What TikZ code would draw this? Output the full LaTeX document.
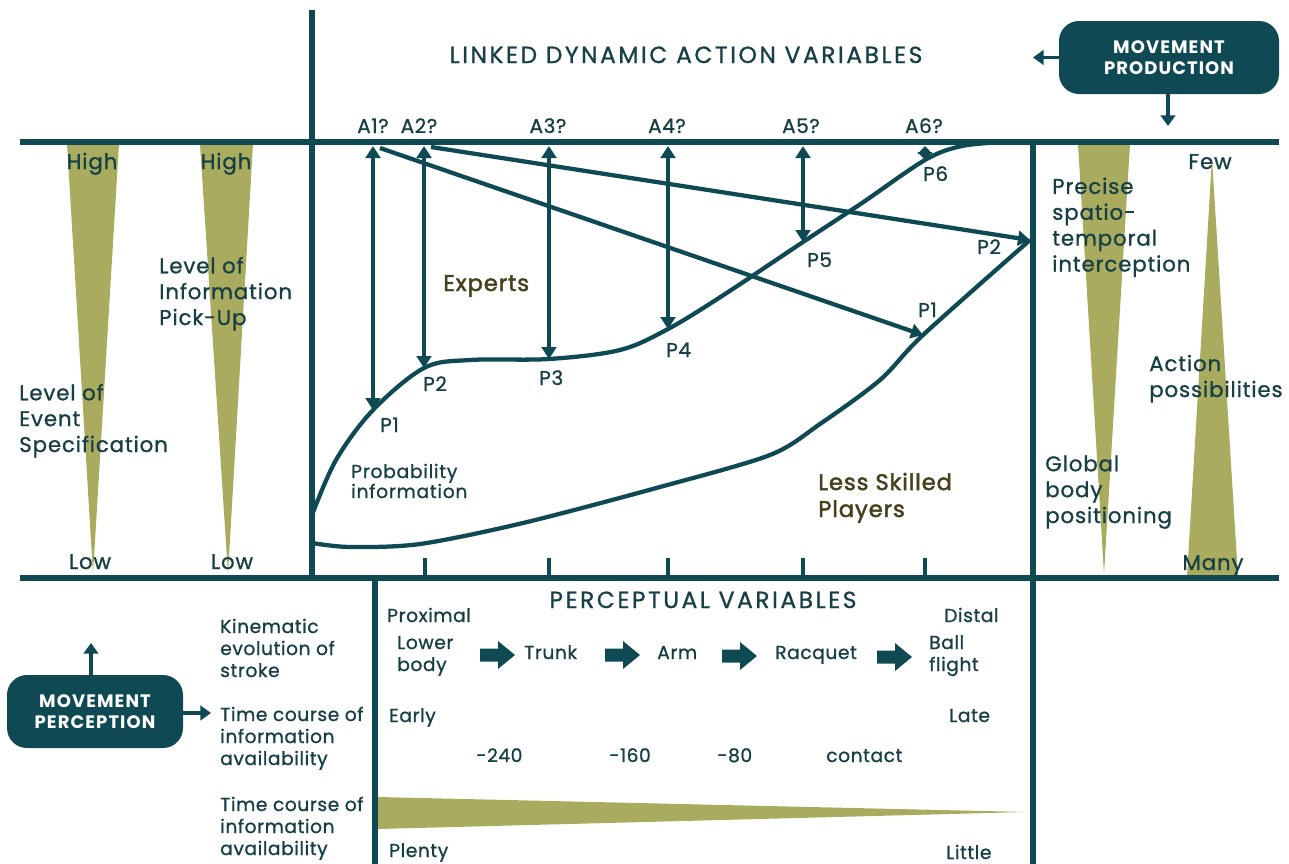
\documentclass[tikz,border=0pt]{standalone}
\usepackage{fontspec}
\setmainfont{Poppins}
\usetikzlibrary{arrows.meta}

\definecolor{deepteal}{HTML}{0F4A54}
\definecolor{labelink}{HTML}{173F46}
\definecolor{conefill}{HTML}{A9AC5E}
\definecolor{groupink}{HTML}{46411C}

\tikzset{
  headtip/.tip={Triangle[length=9pt,width=11pt]},
  axisline/.style={line width=4pt, draw=deepteal},
  trendline/.style={line width=3.2pt, draw=deepteal, line join=round},
  linkarrow/.style={line width=3.2pt, draw=deepteal, -headtip},
  bothway/.style={line width=3.2pt, draw=deepteal, headtip-headtip},
  boxarrow/.style={line width=2.6pt, draw=deepteal, -{Triangle[length=8pt,width=11pt]}},
  wedge/.style={fill=conefill},
  caption/.style={text=labelink, inner sep=0pt, align=left, anchor=base west,
    font=\fontsize{16}{19.4}\selectfont\addfontfeatures{LetterSpace=4,FakeBold=1}},
  rowlabel/.style={text=labelink, inner sep=0pt, align=left, anchor=base west,
    font=\fontsize{14}{16.5}\selectfont\addfontfeatures{LetterSpace=3,FakeBold=1}},
  cell/.style={text=labelink, inner sep=0pt, anchor=base west, align=left,
    font=\fontsize{14}{16.5}\selectfont\addfontfeatures{LetterSpace=3,FakeBold=1}},
  pointlbl/.style={text=labelink, inner sep=0pt, anchor=base west,
    font=\fontsize{15}{17}\selectfont\addfontfeatures{LetterSpace=3,FakeBold=1}},
  actlbl/.style={text=labelink, inner sep=0pt, anchor=base,
    font=\fontsize{15}{17}\selectfont\addfontfeatures{LetterSpace=3,FakeBold=1}},
  heading/.style={text=labelink, inner sep=0pt, anchor=base,
    font=\fontsize{17.5}{20}\selectfont\addfontfeatures{LetterSpace=11,FakeBold=1}},
  endlbl/.style={text=labelink, inner sep=0pt, anchor=base,
    font=\fontsize{16}{18}\selectfont\addfontfeatures{LetterSpace=4,FakeBold=1}},
  group/.style={text=groupink, inner sep=0pt, align=left, anchor=base west,
    font=\fontsize{17}{20.2}\selectfont\addfontfeatures{LetterSpace=4,FakeBold=2}},
  smallnote/.style={text=labelink, inner sep=0pt, align=left, anchor=base west,
    font=\fontsize{14}{15}\selectfont\addfontfeatures{LetterSpace=4,FakeBold=1}},
  movebox/.style={fill=deepteal, rounded corners=15pt, text=white, align=center,
    font=\bfseries\fontsize{13.5}{15.5}\selectfont\addfontfeatures{LetterSpace=6},
    inner sep=0pt},
  fatarrow/.pic={\fill[deepteal] (0,-6.5) -- (18,-6.5) -- (18,-14) -- (35,0)
      -- (18,14) -- (18,6.5) -- (0,6.5) -- cycle;}
}

\begin{document}
\begin{tikzpicture}[x=0.75pt,y=-0.75pt]
\useasboundingbox (0,0) rectangle (1289,864);

% tapering scales behind the text
\fill[wedge] (67,144) -- (119,144) -- (93,574) -- cycle;
\fill[wedge] (200,144) -- (253,144) -- (228,574) -- cycle;
\fill[wedge] (1078,144) -- (1130,144) -- (1104,574) -- cycle;
\fill[wedge] (1212,158) -- (1238,576) -- (1187,576) -- cycle;
\fill[wedge] (378,797) -- (1026,812) -- (378,829) -- cycle;

% frame
\draw[axisline] (20,142) -- (1279,142);
\draw[axisline] (20,578) -- (1279,578);
\draw[axisline] (312,10) -- (312,578);
\draw[axisline] (1033,142) -- (1033,864);
\draw[axisline] (375,578) -- (375,864);
\foreach \tx in {425,549,668,803,925}
  \draw[line width=2.6pt, deepteal] (\tx,558) -- (\tx,578);

% movement boxes
\node[movebox, minimum width=165pt, minimum height=54.75pt] (prod) at (1169,57.5)
  {MOVEMENT\\PRODUCTION};
\coordinate (prodleft) at (1033,57.5);
\coordinate (proddown) at (1168,126);
\draw[boxarrow] (prod.west) -- (prodleft);
\draw[boxarrow] (prod.south -| proddown) -- (proddown);

\node[movebox, minimum width=132pt, minimum height=54.75pt] (perc) at (95,711.5)
  {MOVEMENT\\PERCEPTION};
\coordinate (percup) at (91,643);
\coordinate (percright) at (211,713);
\draw[boxarrow] (perc.north -| percup) -- (percup);
\draw[boxarrow] (perc.east |- percright) -- (percright);

% headings
\node[heading] (linked) at (686,63) {LINKED DYNAMIC ACTION VARIABLES};
\node[heading] (percvar) at (703,608) {PERCEPTUAL VARIABLES};

% scale ends
\node[endlbl] (hi1) at (92,169) {High};
\node[endlbl] (hi2) at (226,169) {High};
\node[endlbl] (lo1) at (90,569) {Low};
\node[endlbl] (lo2) at (232,569) {Low};
\node[endlbl] (few) at (1210,169) {Few};
\node[endlbl] (many) at (1213,570) {Many};

% scale captions (anchored on the last line)
\node[caption] (pickup) at (159,325) {Level of\\Information\\Pick-Up};
\node[caption] (eventspec) at (19,452) {Level of\\Event\\Specification};
\node[caption] (precise) at (1052,271.5) {Precise\\spatio-\\temporal\\interception};
\node[caption] (actposs) at (1149,397) {Action\\possibilities};
\node[caption] (global) at (1045,523) {Global\\body\\positioning};

% action labels
\node[actlbl] (A1) at (373,133) {A1?};
\node[actlbl] (A2) at (419,133) {A2?};
\node[actlbl] (A3) at (548,133) {A3?};
\node[actlbl] (A4) at (667,133) {A4?};
\node[actlbl] (A5) at (801,133) {A5?};
\node[actlbl] (A6) at (924,133) {A6?};

% anchor points on the action line and on the expert curve
\coordinate (a1) at (373,146);
\coordinate (a2) at (424,146);
\coordinate (a3) at (549,146);
\coordinate (a4) at (668,146);
\coordinate (a5) at (803,146);
\coordinate (a6) at (925,146);
\coordinate (a1d) at (380,148);
\coordinate (a2d) at (431,147);
\coordinate (p1) at (373,410);
\coordinate (p2) at (424,368);
\coordinate (p3) at (549,359);
\coordinate (p4) at (668,329);
\coordinate (p5) at (803,242);
\coordinate (p6) at (925,160);
\coordinate (q1) at (923,335);
\coordinate (q2) at (1030,240);

% expert coupling curve
\draw[trendline] plot[smooth, tension=0.55] coordinates {
  (312,515) (336,460) (p1) (p2) (470,360) (p3) (620,350) (p4) (722,296)
  (p5) (862,203) (p6) (962,146) (1005,142)};

% less skilled coupling curve
\draw[trendline] plot[smooth, tension=0.5] coordinates {
  (312,543) (350,547) (420,544) (523,523) (660,487) (770,455) (820,424)
  (880,380) (q1) (q2)};

% action-perception links
\draw[bothway] (a1) -- (p1);
\draw[bothway] (a2) -- (p2);
\draw[bothway] (a3) -- (p3);
\draw[bothway] (a4) -- (p4);
\draw[bothway] (a5) -- (p5);
\draw[line width=3.2pt, deepteal, {Triangle[length=6pt,width=11pt]}-{Triangle[length=6pt,width=11pt]}] (a6) -- (p6);
\draw[linkarrow] (a1d) -- (q1);
\draw[linkarrow] (a2d) -- (q2);

% perception points
\node[pointlbl] (P1) at (380,432) {P1};
\node[pointlbl] (P2) at (423,391) {P2};
\node[pointlbl] (P3) at (539,385) {P3};
\node[pointlbl] (P4) at (666,357) {P4};
\node[pointlbl] (P5) at (807,267) {P5};
\node[pointlbl] (P6) at (923,181) {P6};
\node[pointlbl] (P1b) at (918,317) {P1};
\node[pointlbl] (P2b) at (977,254) {P2};

\node[group] (experts) at (443,291) {Experts};
\node[group] (less) at (818,517) {Less Skilled\\Players};
\node[smallnote] (prob) at (351,498) {Probability\\information};

% perceptual variables
\node[rowlabel] (kin) at (220,677) {Kinematic\\evolution of\\stroke};
\node[rowlabel] (time1) at (220,765) {Time course of\\information\\availability};
\node[rowlabel] (time2) at (220,855) {Time course of\\information\\availability};

\node[cell] (proximal) at (387,622) {Proximal};
\node[cell] (distal) at (944,622) {Distal};
\node[cell] (lower) at (397,671) {Lower\\body};
\node[cell] (trunk) at (524,659) {Trunk};
\node[cell] (arm) at (657,659) {Arm};
\node[cell] (racquet) at (775,659) {Racquet};
\node[cell] (ball) at (929,671) {Ball\\flight};
\pic at (480,655) {fatarrow};
\pic at (605,655) {fatarrow};
\pic at (722,656) {fatarrow};
\pic at (877,657) {fatarrow};

\node[cell] (early) at (389,722) {Early};
\node[cell] (late) at (949,722) {Late};
\node[cell] (t240) at (476,762) {-240};
\node[cell] (t160) at (609,762) {-160};
\node[cell] (t80) at (717,762) {-80};
\node[cell] (contact) at (826,762) {contact};
\node[cell] (plenty) at (389,857) {Plenty};
\node[cell] (little) at (946,859) {Little};
\end{tikzpicture}
\end{document}
